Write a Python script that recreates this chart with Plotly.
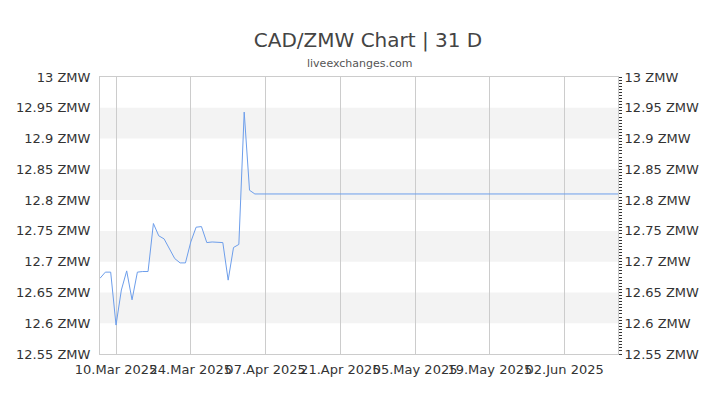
import plotly.graph_objects as go

# CAD/ZMW daily rates
dates = ["2025-03-07", "2025-03-08", "2025-03-09", "2025-03-10", "2025-03-11",
         "2025-03-12", "2025-03-13", "2025-03-14", "2025-03-15", "2025-03-16",
         "2025-03-17", "2025-03-18", "2025-03-19", "2025-03-20", "2025-03-21",
         "2025-03-22", "2025-03-23", "2025-03-24", "2025-03-25", "2025-03-26",
         "2025-03-27", "2025-03-28", "2025-03-29", "2025-03-30", "2025-03-31",
         "2025-04-01", "2025-04-02", "2025-04-03", "2025-04-04", "2025-04-05",
         "2025-06-12"]
rates = [12.673, 12.683, 12.683, 12.597, 12.654,
         12.685, 12.638, 12.683, 12.684, 12.684,
         12.762, 12.742, 12.737, 12.722, 12.705,
         12.698, 12.698, 12.732, 12.756, 12.757,
         12.731, 12.732, 12.731, 12.731, 12.670,
         12.723, 12.728, 12.943, 12.816, 12.810,
         12.810]

x_ticks = ["2025-03-10", "2025-03-24", "2025-04-07", "2025-04-21",
           "2025-05-05", "2025-05-19", "2025-06-02"]
y_ticks = [12.55, 12.6, 12.65, 12.7, 12.75, 12.8, 12.85, 12.9, 12.95, 13.0]
y_labels = ["12.55 ZMW", "12.6 ZMW", "12.65 ZMW", "12.7 ZMW", "12.75 ZMW",
            "12.8 ZMW", "12.85 ZMW", "12.9 ZMW", "12.95 ZMW", "13 ZMW"]

font = "DejaVu Sans"
line_grey = "#cccccc"

fig = go.Figure()
fig.add_trace(go.Scatter(x=dates, y=rates, mode="lines",
                         line=dict(color="#6d9eeb", width=1),
                         hoverinfo="x+y", showlegend=False))
# invisible copy so the right axis is drawn
fig.add_trace(go.Scatter(x=dates, y=rates, mode="lines", yaxis="y2",
                         line=dict(color="rgba(0,0,0,0)", width=0),
                         hoverinfo="skip", showlegend=False))

# alternating grey bands
shapes = []
for i in range(1, len(y_ticks) - 1, 2):
    shapes.append(dict(type="rect", xref="paper", yref="y", layer="below",
                       x0=0, x1=1, y0=y_ticks[i], y1=y_ticks[i + 1],
                       fillcolor="#f3f3f3", line=dict(width=0)))

# page body adds an 8px offset, margins account for it
fig.update_layout(
    width=720, height=405,
    margin=dict(l=92, r=110, t=69, b=59),
    paper_bgcolor="white", plot_bgcolor="white",
    font=dict(family=font, size=13, color="#333333"),
    title=dict(text="CAD/ZMW Chart | 31 D",
               x=0.5, xanchor="center", y=0.921, yanchor="middle",
               font=dict(family=font, size=20, color="#444444")),
    annotations=[dict(text="liveexchanges.com", xref="paper", yref="paper",
                      x=0.5, y=1.05, xanchor="center", yanchor="middle",
                      showarrow=False,
                      font=dict(family=font, size=11, color="#555555"))],
    shapes=shapes,
    xaxis=dict(range=["2025-03-07", "2025-06-12"], tickvals=x_ticks,
               tickformat="%d.%b %Y", tickangle=0, automargin=False,
               ticklabelstandoff=3,
               showgrid=True, gridcolor=line_grey,
               showline=True, linecolor=line_grey, mirror=True,
               ticks="", zeroline=False),
    yaxis=dict(range=[12.55, 13.0], tickvals=y_ticks, ticktext=y_labels,
               automargin=False, ticklabelstandoff=6,
               showgrid=False, showline=True,
               linecolor=line_grey, ticks="", zeroline=False),
    yaxis2=dict(range=[12.55, 13.0], tickvals=y_ticks, ticktext=y_labels,
                overlaying="y", side="right", showgrid=False,
                automargin=False, ticklabelstandoff=3,
                showline=True, linecolor=line_grey,
                zeroline=False, ticks="",
                minor=dict(ticks="outside", dtick=0.005, ticklen=3,
                           tickcolor="#333333", showgrid=False)),
)

fig.write_html("out.html")
